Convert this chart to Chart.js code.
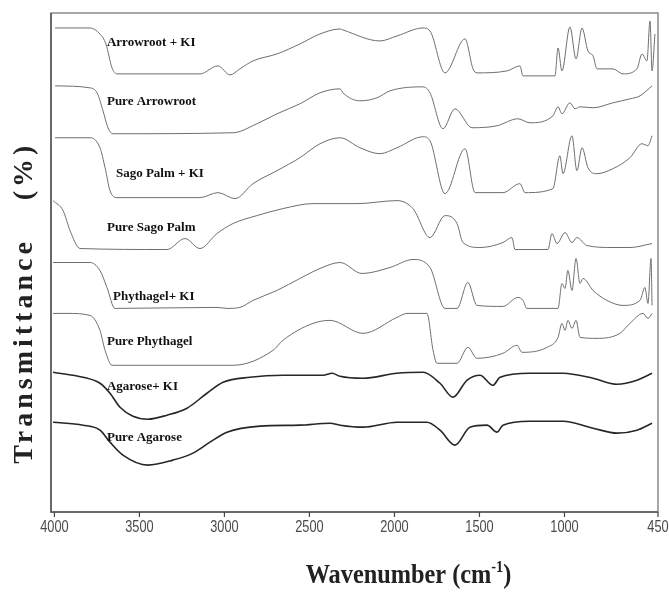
<!DOCTYPE html>
<html>
<head>
<meta charset="utf-8">
<script src="https://cdn.jsdelivr.net/npm/chart.js@4.4.0/dist/chart.umd.min.js"></script>
<style>
  html, body { margin: 0; padding: 0; background: #fff; }
  #wrap { width: 669px; height: 592px; }
</style>
</head>
<body>
<div id="wrap"><canvas id="ftir"></canvas></div>
<script>
// wavenumber (cm-1) and transmittance (offset, arbitrary units)
const waveArrowrootKI = [3996, 3791, 3732, 3697, 3661, 3632, 3144, 3038, 2967, 2909, 2832, 2691, 2556, 2438, 2320, 2303, 2085, 1985, 1832, 1791, 1703, 1585, 1538, 1515, 1338, 1262, 1244, 1056, 1038, 1015, 968, 932, 897, 862, 832, 809, 715, 656, 574, 544, 515, 497, 485, 468];
const transArrowrootKI = [97.0, 97.0, 95.8, 93.8, 89.0, 87.8, 87.8, 89.4, 87.6, 88.8, 90.4, 91.8, 93.8, 95.8, 96.8, 96.6, 94.4, 95.4, 97.0, 96.4, 88.0, 94.8, 88.8, 88.0, 88.4, 89.4, 87.4, 87.4, 93.0, 88.4, 97.2, 90.8, 97.0, 92.4, 91.4, 88.8, 88.8, 87.8, 88.8, 91.8, 90.4, 98.4, 88.4, 95.8];

const wavePureArrowroot = [3996, 3791, 3749, 3714, 3685, 3655, 2950, 2809, 2691, 2556, 2438, 2320, 2303, 2203, 2103, 2026, 1832, 1791, 1715, 1644, 1544, 1397, 1274, 1203, 1068, 1038, 1015, 968, 938, 909, 832, 715, 615, 556, 485];
const transPureArrowroot = [85.4, 85.0, 84.0, 80.4, 77.0, 75.8, 76.0, 77.8, 79.8, 81.8, 84.0, 84.8, 84.0, 82.4, 83.0, 84.4, 85.2, 84.0, 76.8, 80.8, 77.0, 77.4, 78.8, 78.0, 79.4, 81.2, 79.8, 82.0, 80.8, 81.2, 81.0, 82.0, 82.8, 83.4, 85.4];

const waveSagoKI = [3996, 3791, 3732, 3702, 3673, 3632, 3144, 3038, 2938, 2832, 2691, 2556, 2438, 2320, 2203, 2085, 1985, 1832, 1791, 1703, 1585, 1526, 1362, 1262, 1232, 1068, 1027, 1009, 956, 927, 897, 862, 809, 715, 615, 544, 509, 485];
const transSagoKI = [75.0, 75.0, 73.0, 69.0, 64.4, 63.0, 63.0, 64.0, 62.8, 65.8, 68.4, 71.0, 73.8, 75.0, 73.0, 71.8, 73.0, 75.2, 74.4, 63.8, 72.8, 64.0, 64.0, 65.8, 64.0, 64.8, 71.4, 67.8, 75.4, 68.4, 73.0, 69.0, 67.8, 68.8, 71.0, 73.8, 73.4, 75.4];

const wavePureSago = [4008, 3949, 3908, 3849, 3338, 3232, 3144, 3044, 2950, 2809, 2656, 2479, 2320, 2220, 1985, 1891, 1791, 1703, 1632, 1597, 1497, 1362, 1309, 1291, 1097, 1074, 1044, 997, 956, 927, 868, 715, 615, 485];
const transPureSago = [62.4, 60.4, 56.4, 52.8, 52.6, 54.8, 52.8, 55.8, 57.8, 59.4, 60.8, 61.8, 61.8, 61.8, 62.4, 60.8, 55.0, 59.4, 57.8, 54.0, 53.0, 54.0, 55.0, 52.6, 52.6, 55.8, 53.8, 56.0, 54.0, 55.0, 53.4, 53.0, 53.0, 53.8];

const wavePhytaKI = [4008, 3791, 3732, 3691, 3644, 3044, 2985, 2909, 2832, 2691, 2556, 2438, 2320, 2191, 2026, 1891, 1791, 1703, 1632, 1568, 1515, 1362, 1274, 1244, 1221, 1038, 1015, 997, 980, 956, 932, 909, 891, 832, 750, 656, 556, 527, 509, 491, 485];
const transPhytaKI = [50.0, 50.0, 48.4, 45.0, 40.8, 41.0, 40.8, 41.0, 42.4, 44.4, 46.8, 48.8, 50.0, 47.8, 49.0, 50.6, 49.0, 40.8, 40.8, 46.0, 41.4, 41.2, 43.0, 42.4, 40.8, 40.8, 45.8, 44.8, 48.4, 44.4, 50.8, 45.8, 46.8, 44.4, 42.4, 41.4, 42.4, 45.0, 41.8, 50.8, 41.4];

const wavePurePhyta = [4008, 3926, 3791, 3732, 3702, 3661, 2950, 2714, 2656, 2479, 2379, 2185, 1985, 1926, 1809, 1773, 1750, 1632, 1568, 1515, 1362, 1279, 1250, 1103, 1038, 1015, 997, 980, 956, 932, 909, 809, 674, 615, 538, 509, 485];
const transPurePhyta = [39.8, 39.8, 39.4, 36.4, 32.4, 29.4, 29.4, 32.4, 34.4, 37.8, 38.4, 35.8, 39.0, 39.8, 39.8, 32.4, 29.8, 29.8, 33.0, 30.8, 31.8, 33.4, 32.0, 33.0, 35.0, 37.8, 36.4, 38.4, 36.8, 38.4, 35.0, 34.8, 35.8, 37.8, 39.8, 38.8, 39.8];

const waveAgaroseKI = [4008, 3832, 3732, 3673, 3614, 3538, 3450, 3338, 3220, 3103, 3008, 2850, 2656, 2420, 2367, 2320, 2185, 1985, 1832, 1732, 1656, 1574, 1497, 1421, 1379, 1203, 1009, 832, 691, 574, 485];
const transAgaroseKI = [28.0, 27.0, 25.8, 23.8, 21.0, 19.2, 18.6, 19.4, 20.8, 23.8, 26.0, 27.0, 27.4, 27.4, 27.8, 27.2, 26.8, 27.8, 28.0, 25.8, 23.0, 26.4, 27.4, 25.4, 27.0, 27.8, 27.8, 26.8, 25.6, 26.4, 27.8];

const wavePureAgarose = [4008, 3832, 3732, 3673, 3597, 3450, 3303, 3185, 3085, 2985, 2791, 2556, 2379, 2320, 2185, 1985, 1809, 1732, 1644, 1556, 1456, 1397, 1362, 1203, 1009, 832, 691, 574, 485];
const transPureAgarose = [18.0, 17.4, 16.4, 14.0, 11.4, 9.4, 10.4, 11.8, 14.0, 16.0, 17.2, 17.4, 17.8, 17.4, 17.0, 18.0, 18.0, 16.4, 13.4, 17.0, 17.4, 16.0, 17.4, 18.2, 18.2, 16.8, 15.8, 16.4, 17.8];

const tickValues = [4000, 3500, 3000, 2500, 2000, 1500, 1000, 450];

const labelNames = ['Arrowroot + KI', 'Pure Arrowroot', 'Sago Palm + KI', 'Pure Sago Palm', 'Phythagel+ KI', 'Pure Phythagel', 'Agarose+ KI', 'Pure Agarose'];
const labelWave = [3691, 3691, 3638, 3691, 3655, 3691, 3691, 3691];
const labelTrans = [94.0, 82.2, 67.8, 57.0, 43.2, 34.2, 25.2, 15.0];

const spectra = [
  [waveArrowrootKI, transArrowrootKI],
  [wavePureArrowroot, transPureArrowroot],
  [waveSagoKI, transSagoKI],
  [wavePureSago, transPureSago],
  [wavePhytaKI, transPhytaKI],
  [wavePurePhyta, transPurePhyta],
  [waveAgaroseKI, transAgaroseKI],
  [wavePureAgarose, transPureAgarose]
];

const datasets = spectra.map((s, i) => {
  const agar = i >= 6;
  return {
    label: labelNames[i],
    data: s[0].map((w, k) => ({ x: w, y: s[1][k] })),
    borderColor: agar ? '#262626' : '#6e6e6e',
    borderWidth: agar ? 1.6 : 1,
    pointRadius: 0,
    fill: false,
    cubicInterpolationMode: 'monotone'
  };
});

const serif = '"Liberation Serif", "Times New Roman", serif';

const extras = {
  id: 'extras',
  afterDraw(chart) {
    const { ctx, chartArea: a, scales: { x, y } } = chart;
    ctx.save();

    // frame
    ctx.strokeStyle = '#8a8a8a';
    ctx.lineWidth = 1.5;
    ctx.strokeRect(a.left, a.top, a.right - a.left, a.bottom - a.top);
    ctx.strokeStyle = '#555';
    ctx.beginPath();
    ctx.moveTo(a.left, a.top);
    ctx.lineTo(a.left, a.bottom);
    ctx.lineTo(a.right, a.bottom);
    ctx.stroke();

    // ticks + labels
    ctx.fillStyle = '#4a4a4a';
    ctx.strokeStyle = '#444';
    ctx.lineWidth = 1.2;
    ctx.font = '17px "Liberation Sans Narrow", "Arial Narrow", sans-serif';
    ctx.textAlign = 'center';
    ctx.textBaseline = 'middle';
    tickValues.forEach(v => {
      const px = x.getPixelForValue(v);
      ctx.beginPath();
      ctx.moveTo(px, a.bottom);
      ctx.lineTo(px, a.bottom + 5);
      ctx.stroke();
      ctx.save();
      ctx.translate(px, a.bottom + 15);
      ctx.scale(0.75, 1);
      ctx.fillText(String(v), 0, 0);
      ctx.restore();
    });

    // spectrum names
    ctx.fillStyle = '#111';
    ctx.font = 'bold 13px ' + serif;
    ctx.textAlign = 'left';
    ctx.textBaseline = 'middle';
    labelNames.forEach((n, i) => {
      ctx.fillText(n, x.getPixelForValue(labelWave[i]), y.getPixelForValue(labelTrans[i]));
    });

    // x title with superscript
    ctx.save();
    ctx.translate((a.left + a.right) / 2 + 54, 583);
    ctx.scale(0.9, 1);
    ctx.fillStyle = '#222';
    ctx.textBaseline = 'alphabetic';
    const big = 'bold 27px ' + serif, small = 'bold 16px ' + serif;
    ctx.font = big;
    const w1 = ctx.measureText('Wavenumber (cm').width;
    const w3 = ctx.measureText(')').width;
    ctx.font = small;
    const w2 = ctx.measureText('-1').width;
    let sx = -(w1 + w2 + w3) / 2;
    ctx.font = big;
    ctx.fillText('Wavenumber (cm', sx, 0);
    ctx.font = small;
    ctx.fillText('-1', sx + w1, -11);
    ctx.font = big;
    ctx.fillText(')', sx + w1 + w2, 0);
    ctx.restore();

    // y title
    ctx.save();
    ctx.fillStyle = '#222';
    ctx.font = 'bold 28px ' + serif;
    ctx.textAlign = 'center';
    ctx.textBaseline = 'middle';
    ctx.letterSpacing = '4px';
    ctx.translate(25, 0);
    ctx.rotate(-Math.PI / 2);
    ctx.fillText('Transmittance', -351, 0);
    ctx.fillText('(%)', -171, 0);
    ctx.restore();

    ctx.restore();
  }
};

new Chart(document.getElementById('ftir'), {
  type: 'line',
  data: { datasets },
  options: {
    responsive: true,
    maintainAspectRatio: false,
    animation: false,
    layout: { padding: { left: 51, top: 13, right: 11, bottom: 80 } },
    plugins: { legend: { display: false }, tooltip: { enabled: false } },
    scales: {
      x: { type: 'linear', reverse: true, min: 450, max: 4020, display: false },
      y: { min: 0, max: 100, display: false }
    }
  },
  plugins: [extras]
});
</script>
</body>
</html>
